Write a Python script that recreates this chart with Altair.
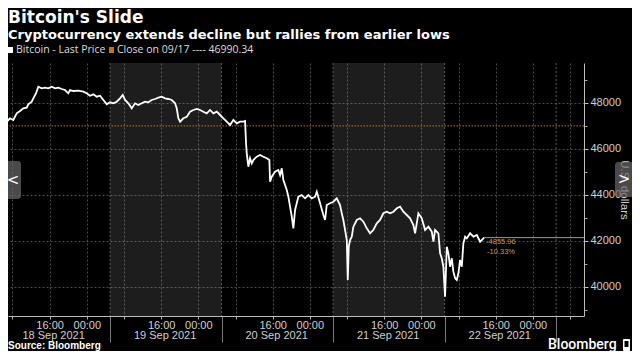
import altair as alt
import pandas as pd

# ---------------- data ----------------
TITLE = "Bitcoin's Slide"
SUBTITLE = "Cryptocurrency extends decline but rallies from earlier lows"
SOURCE = "Source: Bloomberg"
LOGO = "Bloomberg"
SERIES_NAME = "Bitcoin - Last Price"
CLOSE_LABEL = "Close on 09/17"
Y_TITLE = "U.S. dollars"

# hours since 18 Sep 2021 00:00 (chart time)
hours = [0.32, 1.03, 1.76, 2.48, 3.19, 3.55, 3.92, 4.63, 5.34, 6.07, 6.41, 7.15, 7.49, 8.07, 8.57, 9.30,
         10.01, 10.72, 11.45, 12.16, 12.87, 13.60, 14.31, 15.02, 15.39, 16.10, 17.18, 18.25, 18.98, 19.69,
         20.40, 21.14, 21.85, 22.56, 23.29, 24.00, 24.71, 25.44, 26.15,
         26.73, 27.23, 27.94, 28.67, 29.38, 30.09, 30.82, 31.53, 32.24, 32.97, 33.68, 34.40, 35.13, 35.84,
         36.55, 37.28, 37.99, 38.35, 38.70, 39.07, 39.78, 40.51, 41.22, 41.93, 42.66, 43.37, 44.08, 44.81,
         45.52, 46.23, 46.97, 47.68, 48.39, 49.12, 49.83, 50.54, 51.27, 51.98, 52.69,
         53.06, 53.27, 53.42, 53.77, 54.13, 54.50, 54.84, 55.57, 56.29, 56.99, 57.73, 58.29, 58.44, 58.80,
         59.51, 60.22, 60.59, 60.96, 61.30, 61.67, 62.03, 62.38, 62.74, 63.11, 63.45, 63.82, 64.18, 64.53,
         65.26, 65.97, 66.68, 67.41, 68.12, 68.49,
         69.20, 69.91, 70.27, 70.64, 71.35, 72.06, 72.79, 73.50, 73.87, 74.21, 74.58, 74.95, 75.16, 75.38,
         75.66, 76.02, 76.37, 77.10, 77.81, 78.52, 79.25, 79.96, 80.67, 81.40, 82.11, 82.82, 83.56, 84.27,
         84.98, 85.71, 86.42, 87.13, 87.86, 88.57,
         89.28, 89.65, 90.36, 91.09, 91.80, 92.51, 93.24, 93.59, 93.95, 94.66, 95.03, 95.39, 95.74, 96.10,
         96.47, 96.81, 97.18, 97.55, 97.89, 98.26, 98.62, 98.97, 99.33, 99.70, 100.04, 100.41, 100.78,
         101.49, 102.20, 102.93, 103.64, 104.00, 104.50]

prices = [47348, 47391, 47174, 47322, 47248, 47391, 47539, 47639, 47757, 47783, 47930, 48043, 48191, 48409,
          48696, 48626, 48652, 48626, 48696, 48626, 48652, 48596, 48552, 48409, 48552, 48509, 48522, 48478,
          48409, 48304, 48365, 48261, 48304, 48117, 47930, 48017, 47974, 48043, 48191,
          48335, 48117, 47974, 47757, 47974, 47900, 47974, 48043, 48017, 48117, 48161, 48217, 48261, 48191,
          48161, 48117, 47974, 47757, 47322, 47174, 47322, 47391, 47609, 47683, 47726, 47683, 47609, 47539,
          47683, 47539, 47609, 47465, 47322, 47174, 47030, 47248, 47104, 47174, 47174,
          47204, 46235, 45800, 45217, 45583, 45365, 45509, 45652, 45726, 45652, 45583, 45509, 44565, 44782,
          45000, 45074, 44856, 45148, 44639, 44422, 44204, 43913, 43478, 43043, 42539, 43335, 43626, 43913,
          43987, 43843, 43987, 43843, 43913, 44130,
          43626, 43117, 42900, 43552, 43626, 43695, 43843, 43552, 43191, 42900, 42465, 42030, 40291, 41739,
          42030, 42174, 42608, 42900, 42974, 42826, 42539, 42322, 42465, 42756, 42900, 43191, 43261, 43191,
          43261, 43409, 43478, 43261, 43117, 42974,
          42682, 42322, 43191, 42974, 42465, 42608, 42391, 41956, 42465, 42322, 41452, 41235, 40869, 39565,
          41739, 41452, 40869, 41235, 40652, 40365, 40291, 40582, 41161, 40869, 41887, 42174, 42104, 42322,
          42174, 42248, 41956, 42030, 42134]

close_price = 46990.34
net_change = "-4855.96"
pct_change = "-10.33%"

x_domain = [2.04, 126.0]
y_domain = [38726, 49726]

shade_start = [24, 72]
shade_end = [48, 96]
day_bounds = [24, 48, 72, 96, 120]
date_label_hours = [11.75, 35.75, 59.75, 83.75, 107.75]
date_labels = ["18 Sep 2021", "19 Sep 2021", "20 Sep 2021", "21 Sep 2021", "22 Sep 2021"]
time_tick_hours = [3, 11, 19, 27, 35, 43, 51, 59, 67, 75, 83, 91, 99, 107, 115, 123]
y_ticks = [40000, 42000, 44000, 46000, 48000]
y_minor = [39000, 41000, 43000, 45000, 47000, 49000]

# ---------------- style ----------------
W, H = 576, 253
FONT = "Open Sans"
AFONT = "Liberation Sans"
TFONT = "DejaVu Sans"
GRID = "#4a4a4a"
LABEL = "#cfcfcf"
ORANGE = "#c0732f"

xs = alt.Scale(domain=x_domain, nice=False, zero=False)
ys = alt.Scale(domain=y_domain, nice=False, zero=False)

price_df = pd.DataFrame({"h": hours, "p": prices})
shade_df = pd.DataFrame({"s": shade_start, "e": shade_end})
bounds_df = pd.DataFrame({"b": day_bounds})
close_df = pd.DataFrame({"p": [close_price]})
last_df = pd.DataFrame({"h": [hours[-1]], "h2": [x_domain[1]], "p": [prices[-1]]})

date_expr = "[" + ",".join("'%s'" % d for d in date_labels) + "][floor(datum.value / 24)]"
time_expr = "datum.value % 24 == 11 ? '16:00' : (datum.value % 24 == 19 ? '00:00' : '')"

# shaded alternate days (with date-label axis)
shade = alt.Chart(shade_df).mark_rect(color="white", opacity=0.115).encode(
    x=alt.X("s:Q", scale=xs, axis=alt.Axis(
        orient="bottom", values=date_label_hours, labelExpr=date_expr, grid=False, ticks=False,
        tickSize=0, domain=False, labelPadding=13.6, labelFont=AFONT, labelFontSize=11,
        labelColor=LABEL, labelFlush=False, labelOverlap=False, title=None)),
    x2="e:Q",
    y=alt.value(0), y2=alt.value(H),
)

# day boundaries (dashed inside plot, long separators in the label area)
bounds = alt.Chart(bounds_df).mark_rule(color="#5a5a5a", strokeDash=[2, 2], strokeWidth=1).encode(
    x=alt.X("b:Q", scale=xs, axis=alt.Axis(
        orient="bottom", values=day_bounds, labels=False, grid=False, domain=False,
        ticks=True, tickSize=26, tickColor="#7a7a7a", title=None)),
)

# close line with minor y ticks
close = alt.Chart(close_df).mark_rule(color=ORANGE, strokeDash=[1.5, 1.5], strokeWidth=1).encode(
    y=alt.Y("p:Q", scale=ys, axis=alt.Axis(
        orient="right", values=y_minor, labels=False, grid=False, domain=False,
        ticks=True, tickSize=3, tickColor="#aaaaaa", title=None)),
)

# price line with main axes
line = alt.Chart(price_df).mark_line(color="white", strokeWidth=1.8, clip=True).encode(
    x=alt.X("h:Q", scale=xs, axis=alt.Axis(
        orient="bottom", values=time_tick_hours, labelExpr=time_expr, grid=True, gridColor=GRID,
        gridDash=[2, 2], gridWidth=1, tickSize=3, tickColor="#aaaaaa", domain=True,
        domainColor="#bdbdbd", domainWidth=1, labelPadding=0, labelFont=AFONT, labelFontSize=11,
        labelColor=LABEL, labelFlush=False, labelOverlap=False, title=None)),
    y=alt.Y("p:Q", scale=ys, axis=alt.Axis(
        orient="right", values=y_ticks, format="d", grid=True, gridColor=GRID, gridDash=[2, 2],
        gridWidth=1, tickSize=4, tickColor="#bdbdbd", domain=True, domainColor="#bdbdbd",
        labelPadding=2, labelFont=AFONT, labelFontSize=11, labelColor=LABEL, title=Y_TITLE,
        titleFont=AFONT, titleFontSize=11.5, titleFontWeight="normal", titleColor=LABEL,
        titlePadding=-2)),
)

last_rule = alt.Chart(last_df).mark_rule(color="#9a9a9a", strokeWidth=1).encode(
    x=alt.X("h:Q", scale=xs, axis=None), x2="h2:Q",
    y=alt.Y("p:Q", scale=ys, axis=None),
)

ann1 = alt.Chart(last_df.assign(t=[net_change])).mark_text(
    align="left", baseline="middle", dx=2, dy=4.5, fontSize=7.5, font=AFONT, color="#c8956a").encode(
    x=alt.X("h:Q", scale=xs, axis=None), y=alt.Y("p:Q", scale=ys, axis=None), text="t:N")
ann2 = alt.Chart(last_df.assign(t=[pct_change])).mark_text(
    align="left", baseline="middle", dx=3, dy=14, fontSize=7.5, font=AFONT, color="#c8956a").encode(
    x=alt.X("h:Q", scale=xs, axis=None), y=alt.Y("p:Q", scale=ys, axis=None), text="t:N")


def txt(t, x, y, size, weight="normal", color="white", font=FONT, align="left", baseline="alphabetic"):
    return alt.Chart(pd.DataFrame({"t": [t]})).mark_text(
        align=align, baseline=baseline, fontSize=size, fontWeight=weight, color=color, font=font
    ).encode(x=alt.value(x), y=alt.value(y), text="t:N")


def box(x1, x2, y1, y2, color, opacity=1.0, radius=0):
    return alt.Chart(pd.DataFrame({"a": [0]})).mark_rect(
        color=color, opacity=opacity, cornerRadius=radius
    ).encode(x=alt.value(x1), x2=alt.value(x2), y=alt.value(y1), y2=alt.value(y2))


title = txt(TITLE, 0, -40, 17, "bold", "white", TFONT)
subtitle = txt(SUBTITLE, 0, -24.5, 13, "bold", "white", TFONT)
leg_sq1 = box(0, 5, -16, -10, "white")
leg_t1 = txt(SERIES_NAME, 8, -13, 10.5, color="#dddddd", baseline="middle")
leg_sq2 = box(101, 106, -16, -10, ORANGE)
leg_t2 = txt("%s ---- %.2f" % (CLOSE_LABEL, close_price), 109, -13, 10.5, color="#dddddd", baseline="middle")
source = txt(SOURCE, 0, 286.2, 10, "bold", "white", AFONT)
logo = txt(LOGO, 540, 286, 14, 500, "white", "Roboto")
logo_icon = box(615, 622, 276, 288, "white", radius=1)
logo_icon2 = box(616.5, 620.5, 278, 284, "#000000")
btn_l = box(-2, 13, 98, 136, "#6a6a6a", 0.7, 3)
chev_l = txt("<", 5, 117, 15, color="white", font="DejaVu Sans", align="center", baseline="middle")
btn_r = box(607, 626, 99, 134, "#6a6a6a", 0.7, 3)
chev_r = txt(">", 616, 116, 15, color="white", font="DejaVu Sans", align="center", baseline="middle")

chart = alt.layer(
    shade, bounds, close, line, last_rule, ann1, ann2,
    title, subtitle, leg_sq1, leg_t1, leg_sq2, leg_t2, source, logo, logo_icon, logo_icon2,
    btn_l, chev_l, btn_r, chev_r,
).resolve_axis(x="independent", y="independent").properties(
    width=W, height=H,
    autosize=alt.AutoSizeParams(type="none"),
    padding={"left": 0, "top": 55, "right": 48, "bottom": 35},
    background="#000000",
).configure_view(strokeWidth=0)

chart.save("out.html", embed_options={"renderer": "svg", "actions": False})
